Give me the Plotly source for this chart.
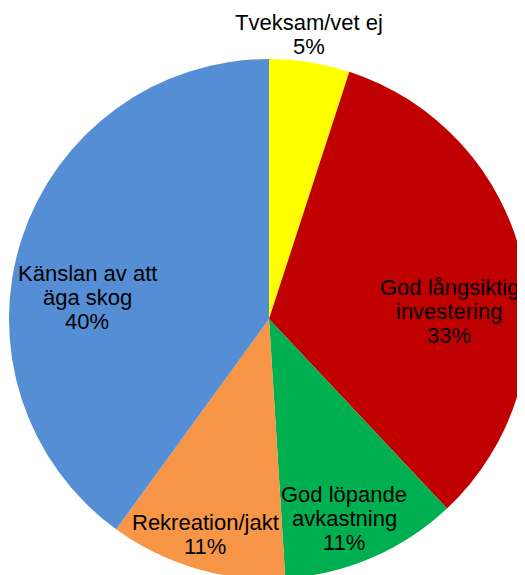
import plotly.graph_objects as go

# Data
kategorier = ['Tveksam/vet ej', 'God långsiktig<br>investering', 'God löpande<br>avkastning',
              'Rekreation/jakt', 'Känslan av att<br>äga skog']
andelar = [5, 33, 11, 11, 40]
farger = ['#FFFF00', '#C00000', '#00B050', '#F79646', '#558ED5']

# Placering av etiketter (pixel i fönstret, mitt av textblock)
etikett_pos = [(309, 34), (449, 311), (344, 518), (205, 534), (87, 297)]

# Sidan har 8 px marginal runt figuren, kompensera för det
OFF = 8
B, H = 525 + OFF, 575 + OFF

# Cirkelns mitt (269, 319) och radie 260 i fönstret
cx, cy, r = 269 - OFF, 319 - OFF, 260

fig = go.Figure(go.Pie(labels=kategorier,
                       values=andelar,
                       marker=dict(colors=farger, line=dict(width=0)),
                       sort=False,
                       direction='clockwise',
                       rotation=0,
                       textinfo='none',
                       hoverinfo='skip',
                       domain=dict(x=[(cx - r) / B, (cx + r) / B],
                                   y=[(H - cy - r) / H, (H - cy + r) / H])))

# Etiketter, en rad i taget för att styra radavståndet
radavstand = 24
for kat, val, (px_, py_) in zip(kategorier, andelar, etikett_pos):
    rader = kat.split('<br>') + [f'{val}%']
    n = len(rader)
    for i, rad in enumerate(rader):
        fig.add_annotation(x=(px_ - OFF) / B, y=1 - (py_ - OFF) / H,
                           xref='paper', yref='paper',
                           text=rad, showarrow=False,
                           xanchor='center', yanchor='middle',
                           yshift=((n - 1) / 2 - i) * radavstand,
                           font=dict(family='Liberation Sans, Arial', size=22, color='black'))

fig.update_layout(width=B, height=H,
                  margin=dict(l=0, r=0, t=0, b=0),
                  showlegend=False,
                  paper_bgcolor='white',
                  plot_bgcolor='white')

fig.write_html('out.html')
